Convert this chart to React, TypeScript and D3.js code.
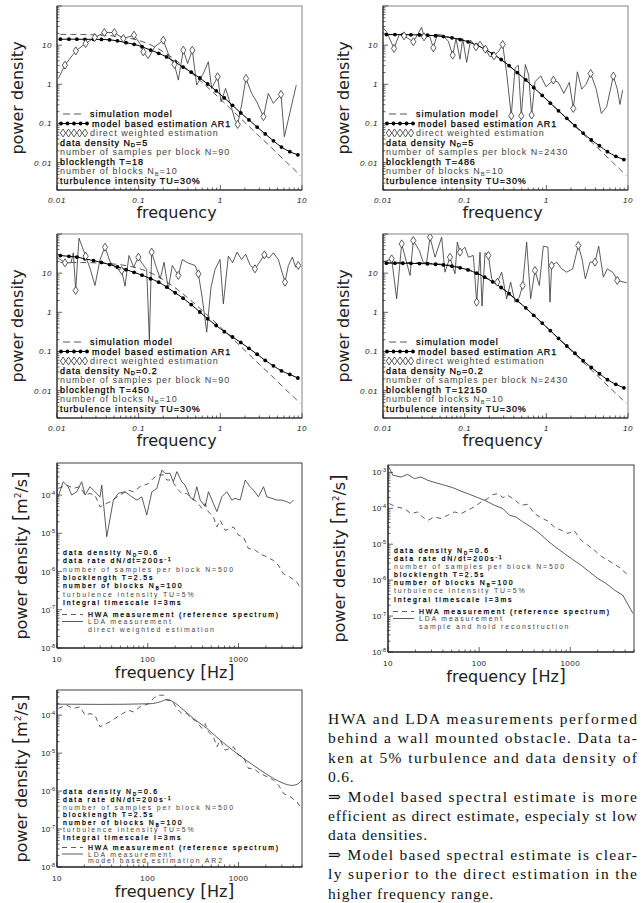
import React from "react";
import * as d3 from "d3";

// ---------- top rows: simulated turbulence spectra ----------
// frequencies of the model based (AR1) estimate, one dot per value
const arFreq = [0.011, 0.014, 0.0175, 0.022, 0.028, 0.035, 0.044, 0.055, 0.07, 0.088, 0.11, 0.14, 0.176, 0.22, 0.28, 0.35, 0.44, 0.56, 0.7, 0.89, 1.12, 1.41, 1.78, 2.24, 2.82, 3.55, 4.47, 5.6, 7.1, 8.9];

// simulation model (dashed)
const simFreq = [0.011, 0.015, 0.02, 0.03, 0.045, 0.06, 0.08, 0.1, 0.13, 0.16, 0.2, 0.25, 0.3, 0.4, 0.5, 0.65, 0.8, 1, 1.3, 1.6, 2, 2.5, 3, 4, 5, 6.5, 8, 9.5];
const simModel = [18.9, 18.8, 18.7, 18.3, 17.4, 16.4, 14.8, 13.2, 10.9, 8.9, 6.8, 5.0, 3.8, 2.34, 1.57, 0.96, 0.65, 0.42, 0.25, 0.166, 0.106, 0.068, 0.047, 0.027, 0.017, 0.0101, 0.0067, 0.0047];

const p1Ar1 = [14.2, 14.2, 14.2, 14.1, 14.1, 14.0, 13.7, 12.9, 11.6, 10.5, 9.1, 7.5, 6.2, 5.0, 3.7, 2.75, 2.04, 1.45, 1.02, 0.68, 0.45, 0.29, 0.186, 0.123, 0.081, 0.054, 0.036, 0.025, 0.019, 0.0158];
const p2Ar1 = [18.6, 18.6, 18.5, 18.4, 18.2, 17.9, 17.4, 16.6, 15.4, 13.9, 12.2, 10.0, 7.9, 6.0, 4.3, 3.0, 2.0, 1.3, 0.83, 0.52, 0.33, 0.21, 0.135, 0.088, 0.057, 0.038, 0.027, 0.019, 0.0145, 0.012];
const p3Ar1 = [28.2, 26.9, 25.7, 23.2, 20.9, 18.8, 16.6, 14.5, 12.3, 10.5, 8.9, 7.2, 5.9, 4.4, 3.16, 2.29, 1.58, 1.02, 0.68, 0.46, 0.32, 0.234, 0.17, 0.12, 0.085, 0.059, 0.043, 0.032, 0.026, 0.021];
const p4Ar1 = [18.0, 18.0, 17.9, 17.8, 17.6, 17.4, 16.9, 16.2, 15.1, 13.7, 12.1, 10.0, 7.9, 6.0, 4.3, 3.0, 2.0, 1.3, 0.84, 0.53, 0.34, 0.215, 0.138, 0.09, 0.058, 0.039, 0.027, 0.019, 0.0145, 0.0118];

// direct weighted estimation (solid line, diamonds on the listed indices)
const p1DirFreq = [0.0104, 0.0125, 0.017, 0.0224, 0.029, 0.038, 0.0504, 0.0649, 0.0877, 0.107, 0.114, 0.131, 0.158, 0.2, 0.242, 0.274, 0.306, 0.352, 0.398, 0.454, 0.513, 0.619, 0.713, 0.783, 0.927, 1.02, 1.16, 1.38, 1.51, 1.63, 1.82, 2.06, 2.42, 2.79, 3.37, 3.87, 4.46, 5.53, 6.08, 8.5];
const p1Dir = [1.41, 3.09, 7.16, 11.0, 15.7, 21.0, 21.0, 14.8, 18.0, 10.0, 6.76, 4.57, 9.06, 13.4, 4.57, 3.21, 1.28, 7.45, 3.40, 7.45, 0.955, 1.89, 3.76, 0.785, 1.56, 0.358, 0.785, 0.242, 0.122, 0.0946, 0.294, 1.41, 0.585, 0.358, 0.149, 0.585, 0.325, 0.551, 0.0459, 0.955];
const p1Marks = [1, 2, 3, 4, 5, 6, 7, 8, 10, 13, 15, 17, 19, 24, 29, 31, 34, 37];

const p2DirFreq = [0.01, 0.0111, 0.01365, 0.0158, 0.0181, 0.021, 0.0235, 0.0263, 0.0297, 0.0318, 0.0369, 0.0413, 0.0462, 0.0538, 0.0631, 0.0713, 0.0783, 0.0877, 0.0946, 0.1057, 0.1183, 0.1377, 0.154, 0.179, 0.204, 0.229, 0.261, 0.292, 0.327, 0.372, 0.413, 0.454, 0.494, 0.553, 0.608, 0.661, 0.726, 0.853, 0.991, 1.22, 1.40, 1.64, 1.91, 2.14, 2.40, 2.71, 3.06, 3.49, 4.06, 4.71, 5.48, 6.61, 7.39, 7.97, 8.60];
const p2Dir = [27.7, 21.9, 8.22, 18.7, 17.3, 14.2, 12.2, 18.0, 28.8, 16.3, 18.0, 8.55, 18.7, 18.0, 12.6, 5.56, 14.8, 4.39, 14.8, 3.61, 13.4, 9.06, 12.6, 7.91, 5.04, 5.35, 7.03, 10.4, 1.89, 0.157, 2.54, 3.09, 0.157, 3.21, 1.72, 0.164, 1.16, 1.65, 0.865, 1.28, 1.12, 0.585, 1.12, 0.242, 2.09, 0.755, 0.993, 1.89, 0.785, 0.181, 0.267, 1.62, 0.755, 0.306, 0.711];
const p2Marks = [2, 4, 6, 9, 11, 15, 21, 23, 25, 27, 29, 32, 35, 39, 43, 47, 51];

const p3DirFreq = [0.01, 0.01253, 0.01483, 0.01585, 0.01694, 0.01858, 0.02244, 0.02535, 0.02917, 0.03365, 0.03873, 0.04457, 0.05228, 0.06194, 0.06808, 0.07614, 0.0869, 0.0991, 0.1109, 0.1253, 0.1352, 0.1443, 0.1615, 0.1841, 0.2042, 0.2307, 0.2582, 0.306, 0.3428, 0.398, 0.4898, 0.5383, 0.6026, 0.6808, 0.7691, 0.861, 0.991, 1.089, 1.253, 1.416, 1.60, 1.824, 2.04, 2.33, 2.655, 3.03, 3.46, 3.945, 4.457, 5.13, 6.19, 6.81, 7.62, 8.36, 9.01];
const p3Dir = [25.6, 18.4, 18.4, 33.0, 3.61, 78.2, 27.2, 13.4, 4.84, 22.3, 46.0, 19.9, 13.4, 11.7, 4.66, 28.3, 14.2, 25.6, 17.3, 12.4, 0.2, 34.4, 15.7, 7.17, 19.1, 3.98, 15.7, 8.72, 22.3, 18.4, 15.7, 9.62, 2.21, 0.313, 4.40, 12.4, 22.3, 1.65, 27.2, 18.4, 34.4, 22.3, 30.5, 15.7, 12.9, 19.1, 29.4, 24.2, 33.0, 22.3, 5.89, 15.7, 25.6, 14.2, 15.7];
const p3Marks = [1, 4, 6, 10, 13, 17, 21, 27, 31, 44, 46, 50, 54];

const p4DirFreq = [0.01, 0.01277, 0.01469, 0.01694, 0.02143, 0.0235, 0.02786, 0.03119, 0.03427, 0.03767, 0.04335, 0.05228, 0.05741, 0.06607, 0.07614, 0.08128, 0.0877, 0.1009, 0.1109, 0.1277, 0.1403, 0.1542, 0.163, 0.1775, 0.195, 0.2143, 0.2328, 0.2512, 0.2838, 0.3266, 0.3656, 0.413, 0.4667, 0.5128, 0.5741, 0.6427, 0.7261, 0.8204, 0.9184, 1.047, 1.109, 1.161, 1.339, 1.541, 1.774, 2.101, 2.465, 2.734, 3.005, 3.425, 3.945, 4.375, 4.99, 5.585, 6.607, 7.39, 9.64];
const p4Dir = [19.1, 23.2, 2.21, 56.0, 8.72, 68.1, 37.8, 18.4, 19.1, 82.8, 25.6, 82.8, 10.6, 25.6, 9.62, 61.8, 34.4, 46.0, 25.6, 28.3, 1.82, 34.4, 1.44, 33.0, 28.3, 7.17, 5.89, 5.89, 10.6, 2.21, 5.89, 1.82, 2.44, 4.84, 61.8, 2.21, 11.7, 4.84, 48.9, 46.0, 1.82, 15.7, 19.1, 12.9, 10.6, 12.9, 50.8, 23.2, 7.17, 19.1, 19.1, 48.9, 7.91, 12.9, 10.2, 6.5, 5.66];
const p4Marks = [1, 3, 5, 9, 13, 16, 20, 24, 27, 33, 36, 41, 46, 50, 55];

// ---------- bottom rows: HWA / LDA measurements ----------
const hwaFreq = [10.3, 12.8, 15.1, 17.9, 20.4, 23.1, 26.2, 29.8, 32.4, 38.4, 43.6, 49.5, 61.1, 69.5, 82.3, 102, 115, 131, 149, 162, 184, 209, 237, 269, 305, 347, 394, 428, 466, 528, 577, 627, 711, 807, 879, 998, 1133, 1285, 1459, 1730, 2051, 2427, 2754, 3126, 3707, 4396, 4776];
const hwa = [1.5e-4, 1.83e-4, 1.5e-4, 1.66e-4, 1.0e-4, 1.1e-4, 1.0e-4, 4.9e-5, 5.5e-5, 6.7e-5, 8.2e-5, 1.0e-4, 1.35e-4, 1.22e-4, 1.66e-4, 2.0e-4, 2.75e-4, 3.36e-4, 3.36e-4, 2.48e-4, 2.48e-4, 1.5e-4, 1.1e-4, 1.1e-4, 8.2e-5, 6.7e-5, 4.5e-5, 6.0e-5, 3.65e-5, 2.7e-5, 1.47e-5, 2.2e-5, 1.2e-5, 1.33e-5, 1.47e-5, 8.9e-6, 8.0e-6, 3.95e-6, 3.95e-6, 2.9e-6, 2.4e-6, 1.95e-6, 1.44e-6, 8.7e-7, 7.1e-7, 5.2e-7, 3.9e-7];

const p5Freq = [10.3, 11.7, 13.3, 14.5, 16.5, 18.7, 20.4, 23.1, 26.2, 29.8, 31.1, 35.3, 41.8, 47.4, 56.2, 66.7, 75.7, 85.9, 97.5, 111, 126, 143, 155, 176, 191, 209, 237, 258, 292, 318, 347, 378, 429, 466, 528, 577, 655, 743, 843, 916, 1042, 1183, 1343, 1459, 1656, 1884, 2051, 2328, 2642, 3000, 3404, 3707, 4027];
const p5Lda = [9.0e-5, 2.23e-4, 1.65e-4, 1.0e-4, 1.22e-4, 2.23e-4, 1.0e-4, 1.65e-4, 1.22e-4, 9.0e-5, 1.82e-4, 8.1e-6, 7.4e-5, 1.11e-4, 1.22e-4, 9.0e-5, 7.4e-5, 9.0e-5, 3.0e-5, 1.22e-4, 1.5e-4, 4.5e-4, 3.7e-4, 3.7e-4, 2.23e-4, 4.1e-4, 2.23e-4, 1.82e-4, 9.0e-5, 7.4e-5, 1.65e-4, 7.4e-5, 5.0e-5, 1.22e-4, 6.05e-5, 3.7e-5, 9.0e-5, 1.22e-4, 7.4e-5, 8.2e-5, 7.4e-5, 2.47e-4, 1.65e-4, 1.35e-4, 9.0e-5, 1.65e-4, 9.0e-5, 8.2e-5, 7.4e-5, 7.4e-5, 6.7e-5, 6.05e-5, 7.4e-5];

const p6Freq = [10, 11.3, 13.9, 16.4, 19.5, 23, 27.3, 33.7, 41.5, 51.3, 63.3, 78.2, 96.5, 119, 147, 182, 215, 254, 301, 372, 459, 566, 698, 861, 1064, 1314, 1622, 2004, 2472, 3048, 3767, 4853];
const p6Lda = [1.55e-3, 8.3e-4, 7.4e-4, 8.8e-4, 6.7e-4, 7.4e-4, 6.0e-4, 5.1e-4, 4.4e-4, 3.75e-4, 3.0e-4, 2.45e-4, 1.98e-4, 1.6e-4, 1.21e-4, 9.8e-5, 6.4e-5, 5.7e-5, 4.2e-5, 3.0e-5, 2.0e-5, 1.24e-5, 8.1e-6, 5.5e-6, 3.75e-6, 2.6e-6, 1.7e-6, 1.11e-6, 8.1e-7, 5.3e-7, 3.8e-7, 1.2e-7];
const p6HwaFreq = [10.3, 12.3, 15.1, 17.9, 21.2, 24, 27.3, 32.2, 38.2, 45.2, 53.5, 63.3, 75, 88.5, 105, 124, 141, 160, 182, 206, 244, 288, 341, 404, 478, 566, 670, 793, 940, 1110, 1314, 1556, 1841, 2178, 2580, 3048, 3614, 4276];
const p6Hwa = [1.35e-4, 1.09e-4, 9.8e-5, 7.1e-5, 7.9e-5, 5.7e-5, 4.6e-5, 5.7e-5, 5.2e-5, 6.4e-5, 7.9e-5, 7.1e-5, 8.8e-5, 1.09e-4, 1.5e-4, 1.86e-4, 2.4e-4, 2.55e-4, 1.98e-4, 2.3e-4, 1.74e-4, 1.21e-4, 1.29e-4, 7.1e-5, 5.5e-5, 4.4e-5, 3.0e-5, 2.45e-5, 2.0e-5, 2.35e-5, 1.29e-5, 9.4e-6, 6.8e-6, 4.6e-6, 3.6e-6, 2.8e-6, 2.1e-6, 1.38e-6];

const p7Freq = [10, 29.8, 106, 137, 162, 191, 237, 318, 447, 627, 879, 1233, 1730, 2427, 3126, 3873, 4396, 4990];
const p7Lda = [1.95e-4, 1.92e-4, 2.0e-4, 2.24e-4, 2.57e-4, 2.24e-4, 1.5e-4, 8.2e-5, 4.5e-5, 2.2e-5, 1.15e-5, 6.3e-6, 3.6e-6, 2.15e-6, 1.6e-6, 1.41e-6, 1.5e-6, 1.95e-6];

// ---------- texts ----------
const simLegend = ["simulation model", "model based estimation AR1", "direct weighted estimation"];
const p1Info = ["data density N_{D}=5", "number of samples per block N=90", "blocklength T=18", "number of blocks N_{B}=10", "turbulence intensity TU=30%"];
const p2Info = ["data density N_{D}=5", "number of samples per block N=2430", "blocklength T=486", "number of blocks N_{B}=10", "turbulence intensity TU=30%"];
const p3Info = ["data density N_{D}=0.2", "number of samples per block N=90", "blocklength T=450", "number of blocks N_{B}=10", "turbulence intensity TU=30%"];
const p4Info = ["data density N_{D}=0.2", "number of samples per block N=2430", "blocklength T=12150", "number of blocks N_{B}=10", "turbulence intensity TU=30%"];
const ldaInfo = ["data density N_{D}=0.6", "data rate dN/dt=200s^{-1}", "number of samples per block N=500", "blocklength T=2.5s", "number of blocks N_{B}=100", "turbulence intensity TU=5%", "Integral timescale I=3ms"];
const ldaInfoDark = [true, true, false, true, true, false, true];
const noteLines = [
  "HWA and LDA measurements performed",
  "behind a wall mounted obstacle. Data ta-",
  "ken at 5% turbulence and data density of",
  "0.6.",
  "\u21D2 Model based spectral estimate is more",
  "efficient as direct estimate, especialy st low",
  "data densities.",
  "\u21D2 Model based spectral estimate is clear-",
  "ly superior to the direct estimation in the",
  "higher frequency range.",
];
const noteJustified = [true, true, true, false, true, true, false, true, true, false];

const SANS = "'Liberation Sans', Arial, sans-serif";
const TITLE = "'DejaVu Sans', 'Liberation Sans', sans-serif";
const SERIF = "'Liberation Serif', 'DejaVu Serif', serif";

type Box = { x0: number; x1: number; y0: number; y1: number };

const isDecade = (t: number) => Math.abs(Math.log10(t) - Math.round(Math.log10(t))) < 1e-6;

// dark legend lines are drawn a little heavier, like the plotter font
const dark = { fill: "#000", stroke: "#000", strokeWidth: 0.25 };
const light = { fill: "#444" };

// text with _{sub} and ^{sup} pieces
function Rich({ s }: { s: string }) {
  const parts = s.split(/([_^]\{[^}]*\})/).filter((p) => p !== "");
  let shift = 0;
  return (
    <>
      {parts.map((p, i) => {
        const m = p.match(/^([_^])\{([^}]*)\}$/);
        if (m) {
          const d = m[1] === "_" ? 1.5 : -2.5;
          const dy = d - shift;
          shift = d;
          return (
            <tspan key={i} dy={dy} fontSize="65%">
              {m[2]}
            </tspan>
          );
        }
        const dy = -shift;
        shift = 0;
        return (
          <tspan key={i} dy={dy}>
            {p}
          </tspan>
        );
      })}
    </>
  );
}

function Diamond({ cx, cy }: { cx: number; cy: number }) {
  return <path d={`M${cx},${cy - 4}L${cx + 2.6},${cy}L${cx},${cy + 4}L${cx - 2.6},${cy}Z`} fill="#fff" stroke="#333" strokeWidth={0.8} />;
}

function Frame({ box, x, y, frame }: { box: Box; x: any; y: any; frame: string }) {
  return (
    <g>
      <rect x={box.x0} y={box.y0} width={box.x1 - box.x0} height={box.y1 - box.y0} fill="none" stroke={frame} strokeWidth={0.8} />
      <line x1={box.x0} x2={box.x0} y1={box.y0} y2={box.y1} stroke="#111" strokeWidth={1} />
      <line x1={box.x0} x2={box.x1} y1={box.y1} y2={box.y1} stroke="#111" strokeWidth={1} />
      {x.ticks().map((t: number) => (
        <line key={"x" + t} x1={x(t)} x2={x(t)} y1={box.y1} y2={box.y1 - (isDecade(t) ? 5 : 2.5)} stroke="#222" strokeWidth={0.7} />
      ))}
      {y.ticks().map((t: number) => (
        <line key={"y" + t} x1={box.x0} x2={box.x0 + (isDecade(t) ? 5 : 2.5)} y1={y(t)} y2={y(t)} stroke="#222" strokeWidth={0.7} />
      ))}
    </g>
  );
}

function SimPanel({ id, box, ar1, dirFreq, dir, marks, info }: { id: string; box: Box; ar1: number[]; dirFreq: number[]; dir: number[]; marks: number[]; info: string[] }) {
  const x = d3.scaleLog().domain([0.01, 10]).range([box.x0, box.x1]);
  const y = d3.scaleLog().domain([0.002, 100]).range([box.y1, box.y0]);
  const line = d3.line<[number, number]>().x((d) => x(d[0])).y((d) => y(d[1]));
  const smooth = d3.line<[number, number]>().x((d) => x(d[0])).y((d) => y(d[1])).curve(d3.curveMonotoneX);
  const simPts = simFreq.map((f, i) => [f, simModel[i]] as [number, number]);
  const arPts = arFreq.map((f, i) => [f, ar1[i]] as [number, number]);
  const dirPts = dirFreq.map((f, i) => [f, dir[i]] as [number, number]);
  const base = (k: number) => box.y1 - 6.5 - 9.5 * (7 - k);
  const lx = box.x0 + 4;
  const cx = (box.x0 + box.x1) / 2;
  return (
    <g>
      <clipPath id={id}>
        <rect x={box.x0} y={box.y0} width={box.x1 - box.x0} height={box.y1 - box.y0} />
      </clipPath>
      <g clipPath={`url(#${id})`}>
        <path d={smooth(simPts) || ""} fill="none" stroke="#444" strokeWidth={0.9} strokeDasharray="6,4" />
        <path d={line(dirPts) || ""} fill="none" stroke="#333" strokeWidth={0.8} />
        <path d={smooth(arPts) || ""} fill="none" stroke="#000" strokeWidth={1} />
        {arPts.map((d, i) => (
          <circle key={i} cx={x(d[0])} cy={y(d[1])} r={1.9} fill="#000" />
        ))}
        {marks.map((i) => (
          <Diamond key={i} cx={x(dirPts[i][0])} cy={y(dirPts[i][1])} />
        ))}
      </g>
      <Frame box={box} x={x} y={y} frame="#666" />
      {[0.01, 0.1, 1, 10].map((t) => (
        <text key={"yl" + t} x={box.x0 - 5} y={y(t) + 3} textAnchor="end" fontFamily={SANS} fontStyle="italic" fontSize={8} letterSpacing={0.6} fill="#222">
          {t}
        </text>
      ))}
      {[0.01, 0.1, 1, 10].map((t) => (
        <text key={"xl" + t} x={x(t)} y={box.y1 + 12.5} textAnchor="middle" fontFamily={SANS} fontStyle="italic" fontSize={8} letterSpacing={0.6} fill="#222">
          {t}
        </text>
      ))}
      <text transform={`translate(${box.x0 - 34},${(box.y0 + box.y1) / 2}) rotate(-90)`} textAnchor="middle" fontFamily={TITLE} fontSize={16} fill="#222">
        power density
      </text>
      <text x={cx - 3} y={box.y1 + 28} textAnchor="middle" fontFamily={TITLE} fontSize={16} fill="#222">
        frequency
      </text>
      {/* legend */}
      <g fontFamily={SANS} fontSize={9} letterSpacing={0.95}>
        <line x1={lx + 2} x2={lx + 24} y1={base(0) - 3} y2={base(0) - 3} stroke="#444" strokeWidth={0.9} strokeDasharray="7,4" />
        <text x={lx + 29} y={base(0)} {...dark}>{simLegend[0]}</text>
        <line x1={lx} x2={lx + 26} y1={base(1) - 3} y2={base(1) - 3} stroke="#000" strokeWidth={1} />
        {[0, 1, 2, 3, 4].map((k) => (
          <circle key={k} cx={lx + k * 6.5} cy={base(1) - 3} r={1.9} fill="#000" />
        ))}
        <text x={lx + 31} y={base(1)} {...dark}>{simLegend[1]}</text>
        {[0, 1, 2, 3, 4].map((k) => (
          <Diamond key={k} cx={lx + 2 + k * 5.5} cy={base(2) - 3} />
        ))}
        <text x={lx + 29} y={base(2)} {...light}>{simLegend[2]}</text>
        {info.map((s, k) => (
          <text key={k} x={lx - 1} y={base(3 + k)} {...(k % 2 === 0 ? dark : light)}>
            <Rich s={s} />
          </text>
        ))}
      </g>
    </g>
  );
}

function LdaPanel({ id, box, yTop, hwaF, hwaV, ldaF, ldaV, smoothLda, third, rows, labelDx }: { id: string; box: Box; yTop: number; hwaF: number[]; hwaV: number[]; ldaF: number[]; ldaV: number[]; smoothLda: boolean; third: string; rows: number[]; labelDx: number }) {
  const x = d3.scaleLog().domain([10, 5000]).range([box.x0, box.x1]);
  const y = d3.scaleLog().domain([1e-8, yTop]).range([box.y1, box.y0]);
  const line = d3.line<[number, number]>().x((d) => x(d[0])).y((d) => y(d[1]));
  if (smoothLda) line.curve(d3.curveMonotoneX);
  const hwaLine = d3.line<[number, number]>().x((d) => x(d[0])).y((d) => y(d[1]));
  const hwaPts = hwaF.map((f, i) => [f, hwaV[i]] as [number, number]);
  const ldaPts = ldaF.map((f, i) => [f, ldaV[i]] as [number, number]);
  const yLabels = y.ticks().filter((t: number) => isDecade(t));
  const lx = box.x0 + 6;
  return (
    <g>
      <clipPath id={id}>
        <rect x={box.x0} y={box.y0} width={box.x1 - box.x0} height={box.y1 - box.y0} />
      </clipPath>
      <g clipPath={`url(#${id})`}>
        <path d={hwaLine(hwaPts) || ""} fill="none" stroke="#333" strokeWidth={0.8} strokeDasharray="5,4" />
        <path d={line(ldaPts) || ""} fill="none" stroke="#333" strokeWidth={0.8} />
      </g>
      <Frame box={box} x={x} y={y} frame="#111" />
      {yLabels.map((t: number) => (
        <text key={"yl" + t} x={box.x0 - 2} y={y(t) + 3} textAnchor="end" fontFamily={SANS} fontSize={8} fill="#222">
          10<tspan dy={-3.5} fontSize={5.5}>{"-" + Math.round(-Math.log10(t))}</tspan>
        </text>
      ))}
      {[10, 100, 1000].map((t) => (
        <text key={"xl" + t} x={x(t)} y={box.y1 + 13.5} textAnchor="middle" fontFamily={SANS} fontSize={8} letterSpacing={0.5} fill="#222">
          {t}
        </text>
      ))}
      <text transform={`translate(${box.x0 + labelDx},${(box.y0 + box.y1) / 2}) rotate(-90)`} textAnchor="middle" fontFamily={TITLE} fontSize={16} fill="#222">
        power density <tspan fontSize={19}>[</tspan>m<tspan dy={-6} fontSize={9}>2</tspan><tspan dy={6}>/s</tspan><tspan fontSize={19}>]</tspan>
      </text>
      <text x={(box.x0 + box.x1) / 2 - 5} y={box.y1 + 30} textAnchor="middle" fontFamily={TITLE} fontSize={16} fill="#222">
        frequency <tspan fontSize={17.5}>[</tspan>Hz<tspan fontSize={17.5}>]</tspan>
      </text>
      <g fontFamily={SANS} fontSize={6.9} letterSpacing={1.85}>
        {ldaInfo.map((s, k) => (
          <text key={k} x={lx} y={rows[k]} {...(ldaInfoDark[k] ? dark : light)}>
            <Rich s={s} />
          </text>
        ))}
        <line x1={lx - 1} x2={lx + 20} y1={rows[7] - 2.5} y2={rows[7] - 2.5} stroke="#333" strokeWidth={0.8} strokeDasharray="5,4" />
        <text x={lx + 25} y={rows[7]} {...dark}>HWA measurement (reference spectrum)</text>
        <line x1={lx - 1} x2={lx + 20} y1={rows[8] - 2.5} y2={rows[8] - 2.5} stroke="#333" strokeWidth={0.8} />
        <text x={lx + 25} y={rows[8]} {...light}>LDA measurement</text>
        <text x={lx + 25} y={rows[9]} {...light}>{third}</text>
      </g>
    </g>
  );
}

export default function App() {
  const b1 = { x0: 57, x1: 302, y0: 6, y1: 190 };
  const b2 = { x0: 383, x1: 628, y0: 6, y1: 190 };
  const b3 = { x0: 57, x1: 302, y0: 234, y1: 418 };
  const b4 = { x0: 383, x1: 628, y0: 234, y1: 418 };
  const b5 = { x0: 57, x1: 302, y0: 463, y1: 648 };
  const b6 = { x0: 388, x1: 634, y0: 465, y1: 652 };
  const b7 = { x0: 57, x1: 302, y0: 690, y1: 867 };
  const rows5 = [555, 563, 572, 580, 588, 597, 605, 617, 624, 632];
  const rows6 = [553, 561, 569, 577, 585, 593, 602, 614, 621, 629];
  const rows7 = [794, 802, 810, 817, 825, 832, 840, 850, 856.5, 863];
  return (
    <svg width={642} height={903} viewBox="0 0 642 903" style={{ position: "absolute", left: 0, top: 0, background: "#fff" }}>
      <rect x={0} y={0} width={642} height={903} fill="#fff" />
      <SimPanel id="c1" box={b1} ar1={p1Ar1} dirFreq={p1DirFreq} dir={p1Dir} marks={p1Marks} info={p1Info} />
      <SimPanel id="c2" box={b2} ar1={p2Ar1} dirFreq={p2DirFreq} dir={p2Dir} marks={p2Marks} info={p2Info} />
      <SimPanel id="c3" box={b3} ar1={p3Ar1} dirFreq={p3DirFreq} dir={p3Dir} marks={p3Marks} info={p3Info} />
      <SimPanel id="c4" box={b4} ar1={p4Ar1} dirFreq={p4DirFreq} dir={p4Dir} marks={p4Marks} info={p4Info} />
      <LdaPanel id="c5" box={b5} yTop={6.9e-4} hwaF={hwaFreq} hwaV={hwa} ldaF={p5Freq} ldaV={p5Lda} smoothLda={false} third="direct weighted estimation" rows={rows5} labelDx={-30} />
      <LdaPanel id="c6" box={b6} yTop={1.6e-3} hwaF={p6HwaFreq} hwaV={p6Hwa} ldaF={p6Freq} ldaV={p6Lda} smoothLda={false} third="sample and hold reconstruction" rows={rows6} labelDx={-43} />
      <LdaPanel id="c7" box={b7} yTop={4.6e-4} hwaF={hwaFreq} hwaV={hwa} ldaF={p7Freq} ldaV={p7Lda} smoothLda={true} third="model based estimation AR2" rows={rows7} labelDx={-30} />
      <g fontFamily={SERIF} fontSize={15.5} fill="#111">
        {noteLines.map((s, i) =>
          noteJustified[i] ? (
            <text key={i} x={328} y={724 + 19.4 * i} textLength={309} lengthAdjust="spacing">
              {s}
            </text>
          ) : (
            <text key={i} x={328} y={724 + 19.4 * i} letterSpacing={0.8}>
              {s}
            </text>
          )
        )}
      </g>
    </svg>
  );
}
